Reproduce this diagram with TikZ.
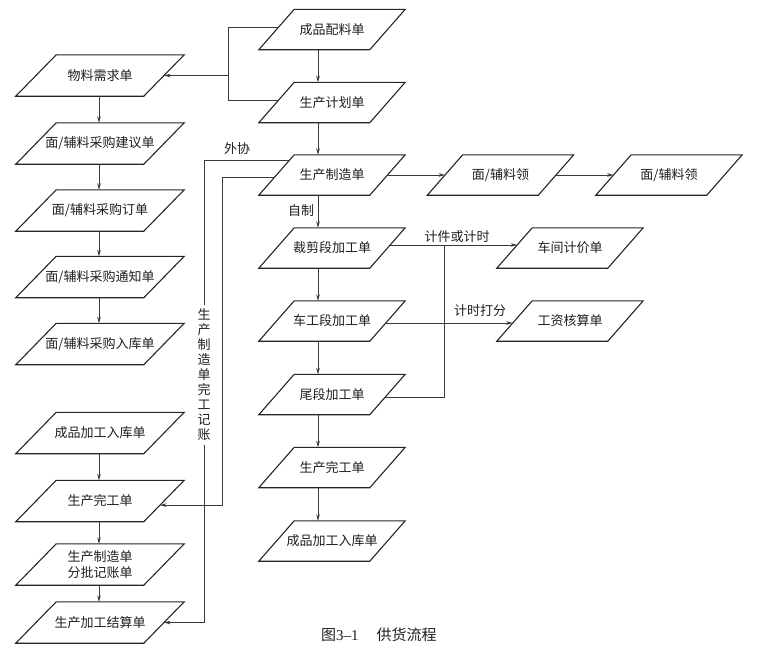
\documentclass[tikz,border=0pt]{standalone}
\usepackage{fontspec}
\setmainfont{Liberation Serif}
\newfontfamily\cjk{Noto Sans CJK SC}
\usetikzlibrary{arrows.meta,calc}
\definecolor{ln}{HTML}{3A3A3A}
\definecolor{tx}{HTML}{1E1E1E}
\tikzset{
  boxtext/.style={inner sep=0pt, text=tx, font=\cjk\fontsize{13}{16}\selectfont, align=center},
  boxline/.style={draw=black!85, line width=1.1pt, line join=miter},
  conn/.style={draw=ln, line width=0.7pt},
  arr/.style={conn, -{Stealth[length=6.5pt,width=3.6pt]}},
  lab/.style={text=tx, font=\cjk\fontsize{13}{15}\selectfont, inner sep=0pt},
}
\newcommand\para[7]{% name, x, y, total width, edge width, height, text
  \node[boxtext, minimum width=#4pt, minimum height=#6pt] (#1) at (#2,#3) {#7};
  \coordinate (#1-bl) at (#1.south west);
  \coordinate (#1-tr) at (#1.north east);
  \coordinate (#1-br) at ($(#1.south west)+(#5,0)$);
  \coordinate (#1-tl) at ($(#1.north east)-(#5,0)$);
  \coordinate (#1-w) at ($(#1-bl)!0.5!(#1-tl)$);
  \coordinate (#1-e) at ($(#1-br)!0.5!(#1-tr)$);
  \draw[boxline] (#1-bl) -- (#1-br) -- (#1-tr) -- (#1-tl) -- cycle;
}
\newcommand\boxM[4]{\para{#1}{#2}{#3}{146}{111}{40}{#4}}
\newcommand\boxL[4]{\para{#1}{#2}{#3}{168}{128}{41}{#4}}
\begin{document}
\begin{tikzpicture}[x=1pt,y=-1pt]
\useasboundingbox (0,0) rectangle (767,654);
% middle column
\boxM{m1}{332}{29.5}{成品配料单}
\boxM{m2}{332}{102.5}{生产计划单}
\boxM{m3}{332}{175}{生产制造单}
\boxM{m4}{332}{248}{裁剪段加工单}
\boxM{m5}{332}{321}{车工段加工单}
\boxM{m6}{332}{394.5}{尾段加工单}
\boxM{m7}{332}{467.5}{生产完工单}
\boxM{m8}{332}{541}{成品加工入库单}
% right
\boxM{r1}{500.5}{175}{面/辅料领}
\boxM{r2}{669}{175}{面/辅料领}
\boxM{r3}{570}{248}{车间计价单}
\boxM{r4}{570}{321}{工资核算单}
% left column
\boxL{l1}{100}{75.5}{物料需求单}
\boxL{l2}{100}{143.5}{面/辅料采购建议单}
\boxL{l3}{100}{210.5}{面/辅料采购订单}
\boxL{l4}{100}{277}{面/辅料采购通知单}
\boxL{l5}{100}{344}{面/辅料采购入库单}
\boxL{l6}{100}{433}{成品加工入库单}
\boxL{l7}{100}{501}{生产完工单}
\boxL{l8}{100}{564.5}{生产制造单\\分批记账单}
\boxL{l9}{100}{622.5}{生产加工结算单}

\coordinate (mx) at (318,0);
\coordinate (lx) at (99,0);
\coordinate (jx) at (228,0);
\coordinate (ix) at (222,0);
\coordinate (cx) at (444,0);

% vertical arrows middle
\foreach \a/\b in {m1/m2,m2/m3,m3/m4,m4/m5,m5/m6,m6/m7,m7/m8}
  \draw[arr] (\a.south -| mx) -- (\b.north -| mx);
% vertical arrows left
\foreach \a/\b in {l1/l2,l2/l3,l3/l4,l4/l5,l6/l7,l7/l8,l8/l9}
  \draw[arr] (\a.south -| lx) -- (\b.north -| lx);

% bracket to material demand
\coordinate (p1) at ($(m1-bl)!0.56!(m1-tl)$);
\coordinate (p2) at ($(m2-bl)!0.56!(m2-tl)$);
\draw[conn] (p1) -| (jx |- p2) -- (p2);
\draw[arr] (jx |- l1-e) -- (l1-e);

% outsourcing lines
\node[lab, align=center, font=\cjk\fontsize{13}{15}\selectfont, inner ysep=4pt] (vt) at (204,375)
  {生\\产\\制\\造\\单\\完\\工\\记\\账};
\coordinate (a1) at ($(m3-bl)!0.875!(m3-tl)$);
\draw[conn] (a1) -| (vt.north);
\draw[arr] (vt.south) |- (l9-e);
\coordinate (a2) at ($(m3-bl)!0.45!(m3-tl)$);
\coordinate (b2) at ($(l7-br)!0.40!(l7-tr)$);
\draw[arr] (a2) -| (ix |- b2) -- (b2);
\node[lab] (wx) at (237,149) {外协};

% right arrows
\draw[arr] (m3-e) -- (r1-w);
\draw[arr] (r1-e) -- (r2-w);
\node[lab] (zz) at (301,211) {自制};

\coordinate (p3) at ($(m4-br)!0.575!(m4-tr)$);
\coordinate (q3) at ($(r3-bl)!0.575!(r3-tl)$);
\draw[arr] (p3) -- (q3);
\coordinate (p6) at ($(m6-br)!0.44!(m6-tr)$);
\draw[conn] (cx |- p3) |- (p6);
\node[lab] (jj) at (457,237) {计件或计时};

\coordinate (p5) at ($(m5-br)!0.45!(m5-tr)$);
\coordinate (q5) at ($(r4-bl)!0.45!(r4-tl)$);
\draw[arr] (p5) -- (q5);
\node[lab] (jd) at (480,311) {计时打分};

% caption
\node[lab, anchor=west, font=\cjk\fontsize{15}{17}\selectfont] (cap) at (321,635)
  {图{\rmfamily 3–1}\hspace{18pt}供货流程};
\end{tikzpicture}
\end{document}
